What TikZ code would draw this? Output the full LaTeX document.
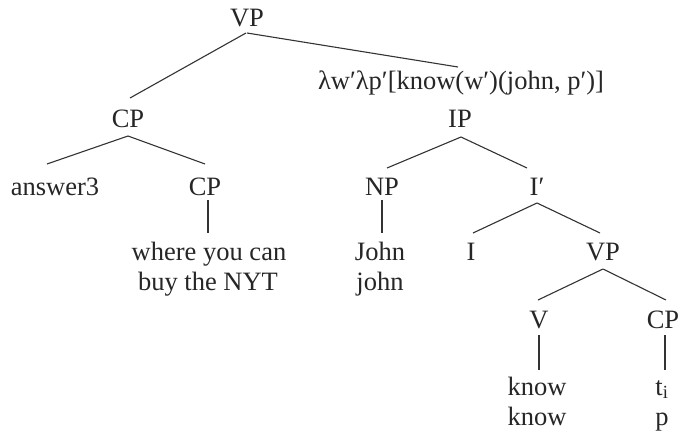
\documentclass[tikz,border=0pt]{standalone}
\usepackage{fontspec}
\setmainfont{Liberation Serif}
\begin{document}
\begin{tikzpicture}[x=1pt,y=-1pt,
  lbl/.style={anchor=base, inner sep=0pt, font=\fontsize{26.5}{30}\selectfont, text=black!85},
  br/.style={line width=1.1pt, draw=black!80}]
\useasboundingbox (0,0) rectangle (680,439);
\node[lbl] (vp) at (247,27) {VP};
\node[lbl] (lam) at (461,89) {λw′λp′[know(w′)(john, p′)]};
\node[lbl] (cp) at (128,127) {CP};
\node[lbl] (ip) at (460,127) {IP};
\node[lbl] (ans) at (55,195) {answer3};
\node[lbl] (cp2) at (205,195) {CP};
\node[lbl] (np) at (382,195) {NP};
\node[lbl] (ibar) at (537,195) {I′};
\node[lbl] (where) at (209,260) {where you can};
\node[lbl] (buy) at (208,290) {buy the NYT};
\node[lbl] (john) at (380,260) {John};
\node[lbl] (john2) at (380,290) {john};
\node[lbl] (i) at (471,260) {I};
\node[lbl] (vp2) at (603,260) {VP};
\node[lbl] (v) at (539,328) {V};
\node[lbl] (cp3) at (663,328) {CP};
\node[lbl] (know) at (537,395) {know};
\node[lbl] (know2) at (537,425) {know};
\node[lbl] (t) at (662,395) {t\textsubscript{i}};
\node[lbl] (p) at (662,425) {p};
\draw[br] ([xshift=-1pt,yshift=-6pt]vp.base) -- ([xshift=2pt,yshift=29pt]cp.base);
\draw[br] ([yshift=-6pt]vp.base) -- ([xshift=-3pt,yshift=22pt]lam.base);
\draw[br] ([yshift=-9pt]cp.base) -- ([xshift=-8pt,yshift=31pt]ans.base);
\draw[br] ([yshift=-9pt]cp.base) -- ([yshift=31pt]cp2.base);
\draw[br] ([xshift=3pt,yshift=-5pt]cp2.base) -- ([xshift=-1pt,yshift=27pt]where.base);
\draw[br] ([xshift=1pt,yshift=-10pt]ip.base) -- ([xshift=5pt,yshift=27pt]np.base);
\draw[br] ([xshift=1pt,yshift=-10pt]ip.base) -- ([xshift=-10pt,yshift=27pt]ibar.base);
\draw[br] ([yshift=-5pt]np.base) -- ([xshift=2pt,yshift=27pt]john.base);
\draw[br] ([yshift=-8pt]ibar.base) -- ([xshift=2pt,yshift=27pt]i.base);
\draw[br] ([yshift=-8pt]ibar.base) -- ([xshift=-3pt,yshift=27pt]vp2.base);
\draw[br] ([yshift=-9pt]vp2.base) -- ([xshift=-1pt,yshift=28pt]v.base);
\draw[br] ([yshift=-9pt]vp2.base) -- ([xshift=3pt,yshift=28pt]cp3.base);
\draw[br] ([yshift=-7pt]v.base) -- ([xshift=2pt,yshift=25pt]know.base);
\draw[br] ([xshift=2pt,yshift=-7pt]cp3.base) -- ([xshift=3pt,yshift=25pt]t.base);
\end{tikzpicture}
\end{document}
